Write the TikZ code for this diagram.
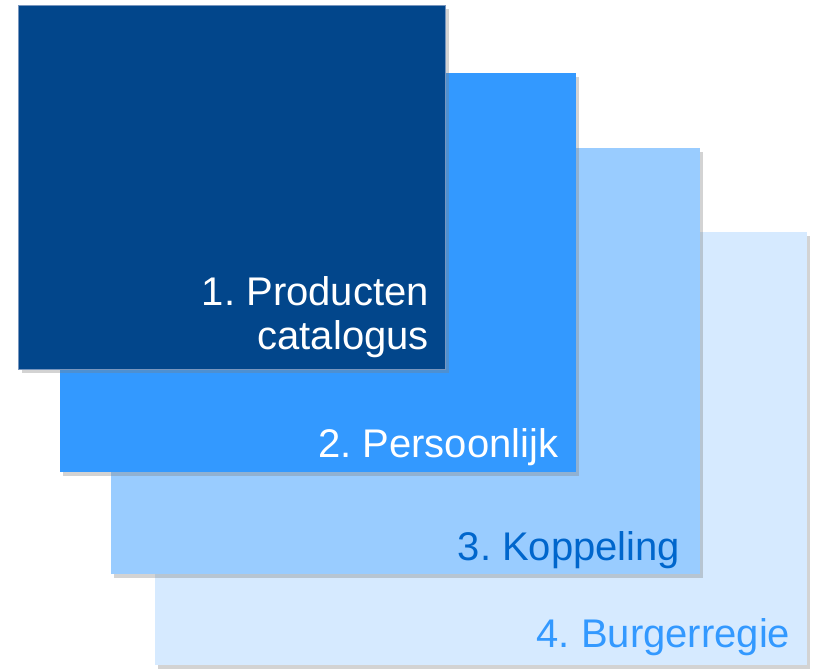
\documentclass[tikz,border=0pt]{standalone}
\usepackage{fontspec}
\setmainfont{Liberation Sans}
\usepackage{tikz}
\usetikzlibrary{shadows}

\definecolor{laagEen}{RGB}{2,70,139}
\definecolor{laagTwee}{RGB}{51,153,255}
\definecolor{laagDrie}{RGB}{153,204,255}
\definecolor{laagVier}{RGB}{214,234,255}
\definecolor{tekstDrie}{RGB}{0,102,204}
\definecolor{randEen}{RGB}{120,150,190}

\begin{document}
\frenchspacing
\begin{tikzpicture}[x=1pt,y=1pt]
		\useasboundingbox (0,0) rectangle (827,670);
		\begin{scope}[every node/.style={rectangle,anchor=north west,inner sep=0pt,
		              drop shadow={opacity=0.35,shadow xshift=3pt,shadow yshift=-4pt}}]
			\node[fill=laagVier,minimum width=652,minimum height=433] (l4) at (155,438) {};
			\node[fill=laagDrie,minimum width=589,minimum height=426] (l3) at (111,522) {};
			\node[fill=laagTwee,minimum width=516,minimum height=399] (l2) at (60,597) {};
			\node[fill=laagEen,draw=randEen,line width=1pt,minimum width=427,minimum height=364] (l1) at (18,665) {};
		\end{scope}

		\begin{scope}[every node/.style={anchor=base east,inner sep=0pt,align=right,
		              font=\fontsize{40}{44}\selectfont}]
			\node[text=white] (t1) at ([xshift=-17pt,yshift=20pt]l1.south east) {1. Producten\\catalogus};
			\node[text=white] (t2) at ([xshift=-18pt,yshift=15pt]l2.south east) {2. Persoonlijk};
			\node[text=tekstDrie] (t3) at ([xshift=-20pt,yshift=14pt]l3.south east) {3. Koppeling};
			\node[text=laagTwee] (t4) at ([xshift=-17pt,yshift=18pt]l4.south east) {4. Burgerregie};
		\end{scope}
\end{tikzpicture}
\end{document}
